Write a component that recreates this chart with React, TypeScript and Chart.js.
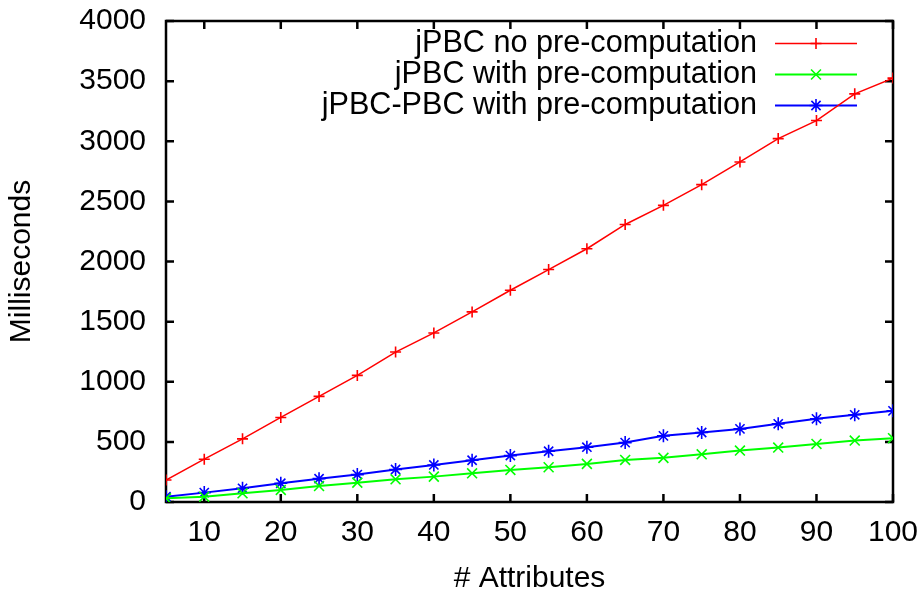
import React, { useEffect, useRef } from 'react';
import { Chart, registerables } from 'chart.js';

Chart.register(...registerables);

// ---------- data ----------
const attributes = [5, 10, 15, 20, 25, 30, 35, 40, 45, 50, 55, 60, 65, 70, 75, 80, 85, 90, 95, 100];

const seriesLabels = [
  'jPBC no pre-computation',
  'jPBC with pre-computation',
  'jPBC-PBC with pre-computation',
];

const jpbcNoPre = [183, 356, 525, 703, 878, 1053, 1247, 1406, 1581, 1761, 1933, 2106, 2308, 2467, 2639, 2828, 3022, 3172, 3394, 3525];
const jpbcWithPre = [31, 44, 72, 100, 133, 161, 189, 211, 239, 267, 289, 317, 350, 367, 397, 428, 453, 483, 511, 531];
const jpbcPbcWithPre = [44, 78, 114, 156, 194, 228, 270, 308, 347, 386, 422, 456, 494, 550, 578, 608, 650, 692, 725, 758];

const xTickValues = [10, 20, 30, 40, 50, 60, 70, 80, 90, 100];
const yTickValues = [0, 500, 1000, 1500, 2000, 2500, 3000, 3500, 4000];

const xTitle = '# Attributes';
const yTitle = 'Milliseconds';

// ---------- styling ----------
const FAMILY = "'Liberation Sans', Arial, Helvetica, sans-serif";
const FONT_SIZE = 30;
const KEY_FONT_SIZE = 30.6;

function drawMarker(ctx: CanvasRenderingContext2D, style: string, x: number, y: number, r: number) {
  ctx.beginPath();
  if (style === 'cross' || style === 'star') {
    ctx.moveTo(x - r, y);
    ctx.lineTo(x + r, y);
    ctx.moveTo(x, y - r);
    ctx.lineTo(x, y + r);
  }
  if (style === 'crossRot' || style === 'star') {
    const d = r * Math.SQRT1_2;
    ctx.moveTo(x - d, y - d);
    ctx.lineTo(x + d, y + d);
    ctx.moveTo(x - d, y + d);
    ctx.lineTo(x + d, y - d);
  }
  ctx.stroke();
}

const gnuplotFrame = {
  id: 'gnuplotFrame',
  beforeDatasetsDraw(chart: any) {
    const { ctx, chartArea: a, scales } = chart;
    ctx.save();
    ctx.strokeStyle = '#000';
    ctx.lineWidth = 2.5;
    ctx.lineCap = 'butt';
    const L = 8;
    ctx.beginPath();
    scales.x.ticks.forEach((t: any) => {
      const px = scales.x.getPixelForValue(t.value);
      ctx.moveTo(px, a.bottom);
      ctx.lineTo(px, a.bottom - L);
      ctx.moveTo(px, a.top);
      ctx.lineTo(px, a.top + L);
    });
    scales.y.ticks.forEach((t: any) => {
      const py = scales.y.getPixelForValue(t.value);
      ctx.moveTo(a.left, py);
      ctx.lineTo(a.left + L, py);
      ctx.moveTo(a.right, py);
      ctx.lineTo(a.right - L, py);
    });
    ctx.stroke();
    ctx.strokeRect(a.left, a.top, a.right - a.left, a.bottom - a.top);

    // key (legend) in the top-right corner, gnuplot style
    ctx.font = `${KEY_FONT_SIZE}px ${FAMILY}`;
    ctx.textAlign = 'right';
    ctx.textBaseline = 'middle';
    chart.data.datasets.forEach((ds: any, i: number) => {
      const y = a.top + 22.5 + i * 31;
      ctx.fillStyle = '#000';
      ctx.fillText(ds.label, a.right - 136, y);
      ctx.strokeStyle = ds.borderColor;
      ctx.lineWidth = ds.borderWidth;
      ctx.beginPath();
      ctx.moveTo(a.right - 118, y);
      ctx.lineTo(a.right - 36, y);
      ctx.stroke();
      ctx.lineWidth = ds.pointBorderWidth;
      drawMarker(ctx, ds.pointStyle, a.right - 77, y, ds.pointRadius);
    });
    ctx.restore();
  },
};

function series(label: string, values: number[], color: string, style: string, radius: number, width: number) {
  return {
    label,
    data: attributes.map((x, i) => ({ x, y: values[i] })),
    borderColor: color,
    backgroundColor: color,
    borderWidth: width,
    pointStyle: style,
    pointRadius: radius,
    pointHoverRadius: radius,
    pointBorderWidth: 1.6,
    pointBorderColor: color,
    pointBackgroundColor: color,
    tension: 0,
    fill: false,
  };
}

export default function App() {
  const canvasRef = useRef<HTMLCanvasElement | null>(null);

  useEffect(() => {
    document.body.style.margin = '0';
    const canvas = canvasRef.current;
    if (!canvas) return;
    const font = { family: FAMILY, size: FONT_SIZE };
    const chart = new Chart(canvas, {
      type: 'line',
      data: {
        datasets: [
          series(seriesLabels[0], jpbcNoPre, '#ff0000', 'cross', 5.5, 1.5),
          series(seriesLabels[1], jpbcWithPre, '#00ff00', 'crossRot', 7, 2),
          series(seriesLabels[2], jpbcPbcWithPre, '#0000ff', 'star', 6.5, 2),
        ],
      },
      options: {
        animation: false,
        responsive: false,
        devicePixelRatio: 1,
        layout: { padding: { left: 0, top: 21, right: 25, bottom: 0 } },
        plugins: {
          legend: { display: false },
          tooltip: { enabled: false },
        },
        events: [],
        scales: {
          x: {
            type: 'linear',
            min: 5,
            max: 100,
            afterBuildTicks: (s: any) => {
              s.ticks = xTickValues.map((v) => ({ value: v }));
            },
            afterFit: (s: any) => {
              s.height = 91;
              s.paddingLeft = 0;
              s.paddingRight = 0;
            },
            grid: { display: false, drawTicks: false },
            border: { display: false },
            ticks: {
              font,
              color: '#000',
              padding: 13,
              maxRotation: 0,
              minRotation: 0,
              autoSkip: false,
              callback: (v: any) => String(v),
            },
            title: {
              display: true,
              text: xTitle,
              font,
              color: '#000',
              padding: { top: 0, bottom: -4 },
            },
          },
          y: {
            type: 'linear',
            min: 0,
            max: 4000,
            afterBuildTicks: (s: any) => {
              s.ticks = yTickValues.map((v) => ({ value: v }));
            },
            afterFit: (s: any) => {
              s.width = 166;
              s.paddingTop = 0;
              s.paddingBottom = 0;
            },
            grid: { display: false, drawTicks: false },
            border: { display: false },
            ticks: {
              font,
              color: '#000',
              padding: 20,
              autoSkip: false,
              callback: (v: any) => String(v),
            },
            title: {
              display: true,
              text: yTitle,
              font,
              color: '#000',
              padding: { top: 4, bottom: 0 },
            },
          },
        },
      },
      plugins: [gnuplotFrame],
    } as any);
    return () => chart.destroy();
  }, []);

  return (
    <div style={{ width: 918, height: 593, background: '#fff' }}>
      <canvas ref={canvasRef} width={918} height={593} style={{ display: 'block' }} />
    </div>
  );
}
